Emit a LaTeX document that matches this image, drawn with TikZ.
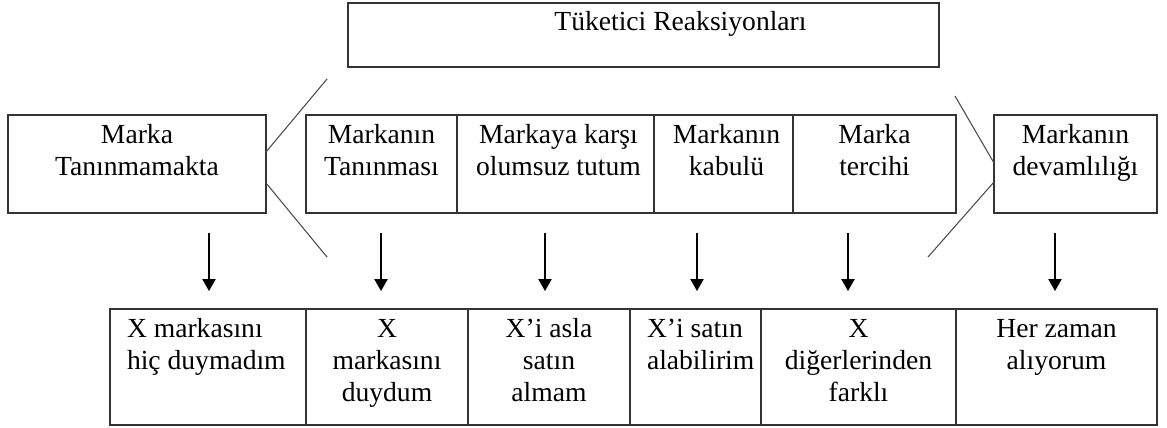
\documentclass[tikz,border=0pt]{standalone}
\usepackage{fontspec}
\setmainfont{Liberation Serif}
\usetikzlibrary{arrows.meta}
\newdimen\pxu \pxu=0.75pt
\newcommand{\cellc}[3]{\parbox[c][#2\pxu][t]{#1\pxu}{\centering\rule{0pt}{21pt}#3}}
\newcommand{\celll}[3]{\parbox[c][#2\pxu][t]{#1\pxu}{\raggedright\leftskip=17\pxu\rule{0pt}{21pt}#3}}
\tikzset{
  cell/.style={draw=black!80, line width=1.1pt, inner sep=0pt, outer sep=0pt, anchor=north west,
    font=\fontsize{20.7pt}{24pt}\selectfont},
  slant/.style={draw=black!70, line width=0.8pt},
  arr/.style={draw=black, line width=1.1pt, -{Triangle[width=10pt,length=9pt]}}
}
\begin{document}
\begin{tikzpicture}[x=0.75pt,y=-0.75pt]
\useasboundingbox (0,0) rectangle (1167,428);
\fill[white] (0,0) rectangle (1167,428);
% top box
\node[cell] (top) at (348,3) {\cellc{591}{64}{\hspace*{74\pxu}Tüketici Reaksiyonları}};
% second row
\node[cell] (lt) at (8,115) {\cellc{258}{98}{Marka\\Tanınmamakta}};
\node[cell] (m1) at (306,115) {\cellc{151}{98}{Markanın\\Tanınması}};
\node[cell] (m2) at (457,115) {\cellc{197}{98}{\hspace*{6\pxu}Markaya karşı\\\hspace*{6\pxu}olumsuz tutum}};
\node[cell] (m3) at (654,115) {\cellc{139}{98}{\hspace*{6\pxu}Markanın\\\hspace*{6\pxu}kabulü}};
\node[cell] (m4) at (793,115) {\cellc{163}{98}{Marka\\tercihi}};
\node[cell] (rt) at (994,115) {\cellc{163}{98}{Markanın\\devamlılığı}};
% bottom row
\node[cell] (b1) at (110,309) {\celll{196}{116}{X markasını\\hiç duymadım}};
\node[cell] (b2) at (306,309) {\cellc{162}{116}{X\\markasını\\duydum}};
\node[cell] (b3) at (468,309) {\cellc{162}{116}{X’i asla\\satın\\almam}};
\node[cell] (b4) at (630,309) {\celll{131}{116}{X’i satın\\alabilirim}};
\node[cell] (b5) at (761,309) {\cellc{195}{116}{X\\diğerlerinden\\farklı}};
\node[cell] (b6) at (956,309) {\cellc{201}{116}{Her zaman\\alıyorum}};
% slanted lines
\coordinate (ula) at (327,79);
\coordinate (llb) at (327,257);
\coordinate (ura) at (955,96);
\coordinate (lrb) at (928,257);
\draw[slant] (ula) -- ([yshift=9pt]lt.east);
\draw[slant] ([yshift=-14.25pt]lt.east) -- (llb);
\draw[slant] (ura) -- ([yshift=0.75pt]rt.west);
\draw[slant] ([yshift=-13.5pt]rt.west) -- (lrb);
% arrows
\coordinate (a1) at (209,233);
\coordinate (a2) at (381,233);
\coordinate (a3) at (545,233);
\coordinate (a4) at (697,233);
\coordinate (a5) at (848,233);
\coordinate (a6) at (1055,233);
\draw[arr, shorten >=13.5pt] (a1) -- (a1 |- b1.north);
\draw[arr, shorten >=13.5pt] (a2) -- (a2 |- b2.north);
\draw[arr, shorten >=13.5pt] (a3) -- (a3 |- b3.north);
\draw[arr, shorten >=13.5pt] (a4) -- (a4 |- b4.north);
\draw[arr, shorten >=13.5pt] (a5) -- (a5 |- b5.north);
\draw[arr, shorten >=13.5pt] (a6) -- (a6 |- b6.north);
\end{tikzpicture}
\end{document}
